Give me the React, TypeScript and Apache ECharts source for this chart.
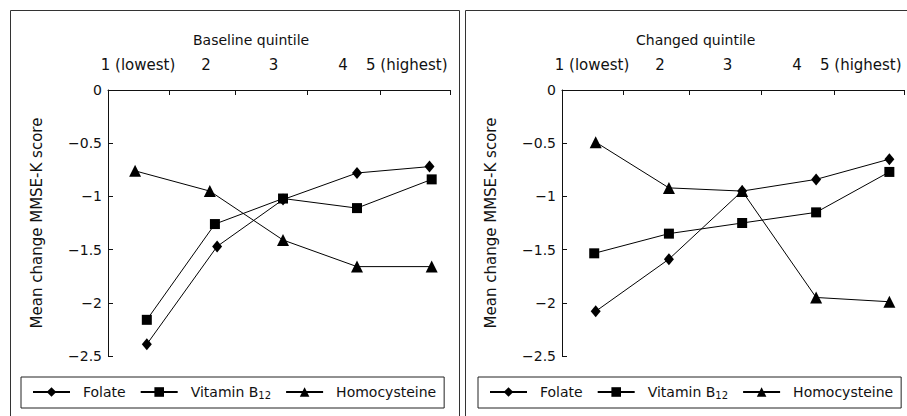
import React, { useEffect, useRef } from "react";
import * as echarts from "echarts";

// Tick labels and positions on the top (quintile) axis
const quintileLabels = ["1 (lowest)", "2", "3", "4", "5 (highest)"];
const labelPositions = [0.41, 1.34, 2.26, 3.21, 4.08];
const tickPositions = [0.83, 1.74, 2.72, 3.72, 4.67];
const xMax = 4.67;
const yTicks = [0, -0.5, -1, -1.5, -2, -2.5];

const panelTitles = ["Baseline quintile", "Changed quintile"];
const seriesNames = ["Folate", "Vitamin B12", "Homocysteine"];

// Baseline quintile panel (x = quintile position, y = mean change)
const baseFolateX = [0.53, 1.49, 2.39, 3.4, 4.39];
const baseFolate = [-2.39, -1.47, -1.03, -0.78, -0.72];
const baseB12X = [0.53, 1.46, 2.39, 3.4, 4.42];
const baseB12 = [-2.16, -1.26, -1.02, -1.11, -0.84];
const baseHcyX = [0.37, 1.39, 2.39, 3.4, 4.42];
const baseHcy = [-0.76, -0.95, -1.41, -1.66, -1.66];

// Changed quintile panel
const chgFolateX = [0.46, 1.46, 2.46, 3.47, 4.47];
const chgFolate = [-2.08, -1.59, -0.95, -0.84, -0.65];
const chgB12X = [0.44, 1.46, 2.46, 3.47, 4.47];
const chgB12 = [-1.535, -1.35, -1.25, -1.15, -0.77];
const chgHcyX = [0.46, 1.46, 2.46, 3.47, 4.47];
const chgHcy = [-0.49, -0.92, -0.95, -1.95, -1.99];

const FONT = "DejaVu Sans";
const INK = "#111";

const zip = (xs: number[], ys: number[]) => xs.map((x, i) => [x, ys[i]]);

const symbols = ["diamond", "rect", "triangle"];
const symbolSizes: any[] = [[10, 12], 10, 12];

export default function App() {
  const ref = useRef<HTMLDivElement>(null);
  useEffect(() => {
    if (!ref.current) return;
    const chart = echarts.init(ref.current, undefined, { renderer: "svg" });

    const grids = [
      { left: 108, top: 90, width: 342, height: 266 },
      { left: 562, top: 90, width: 342, height: 266 },
    ];

    const xAxes = grids.map((_, i) => ({
      type: "value",
      gridIndex: i,
      position: "top",
      min: 0,
      max: xMax,
      splitLine: { show: false },
      axisLine: { show: true, lineStyle: { color: INK, width: 1 } },
      axisTick: {
        show: true,
        inside: true,
        length: 5,
        customValues: tickPositions,
        lineStyle: { color: INK },
      },
      axisLabel: {
        show: true,
        customValues: labelPositions,
        margin: 18,
        fontFamily: FONT,
        fontSize: 15,
        color: INK,
        formatter: (v: number) => {
          let best = 0;
          labelPositions.forEach((p, k) => {
            if (Math.abs(p - v) < Math.abs(labelPositions[best] - v)) best = k;
          });
          return quintileLabels[best];
        },
      },
    }));

    const yAxes = grids.map((_, i) => ({
      type: "value",
      gridIndex: i,
      min: yTicks[yTicks.length - 1],
      max: yTicks[0],
      interval: 0.5,
      name: "Mean change MMSE-K score",
      nameLocation: "middle",
      nameGap: 64,
      nameTextStyle: { fontFamily: FONT, fontSize: 15, color: INK },
      splitLine: { show: false },
      axisLine: { show: true, lineStyle: { color: INK, width: 1 } },
      axisTick: { show: true, inside: true, length: 5, lineStyle: { color: INK } },
      axisLabel: {
        fontFamily: FONT,
        fontSize: 14,
        color: INK,
        margin: 6,
        formatter: (v: number) => String(v).replace("-", "\u2212"),
      },
    }));

    const panelData = [
      [zip(baseFolateX, baseFolate), zip(baseB12X, baseB12), zip(baseHcyX, baseHcy)],
      [zip(chgFolateX, chgFolate), zip(chgB12X, chgB12), zip(chgHcyX, chgHcy)],
    ];

    const series: any[] = [];
    panelData.forEach((panel, pi) => {
      panel.forEach((data, si) => {
        series.push({
          type: "line",
          name: seriesNames[si],
          xAxisIndex: pi,
          yAxisIndex: pi,
          data,
          symbol: symbols[si],
          symbolSize: symbolSizes[si],
          showAllSymbol: true,
          lineStyle: { color: "#000", width: 1 },
          itemStyle: { color: "#000" },
          emphasis: { disabled: true },
        });
      });
    });

    const legendBase = (left: number) => ({
      left,
      top: 377,
      width: 440,
      orient: "horizontal",
      data: seriesNames,
      borderColor: "#222",
      borderWidth: 1,
      padding: [8, 8, 8, 11],
      itemWidth: 37,
      itemHeight: 12,
      itemGap: 14,
      selectedMode: false,
      textStyle: {
        fontFamily: FONT,
        fontSize: 14,
        color: INK,
        padding: [0, 0, 0, 8],
        rich: {
          sub: { fontFamily: FONT, fontSize: 10, color: INK, verticalAlign: "bottom", padding: [6, 0, 0, 0] },
        },
      },
      formatter: (n: string) => (n === "Vitamin B12" ? "Vitamin B{sub|12}" : n),
    });

    chart.setOption({
      animation: false,
      backgroundColor: "#fff",
      textStyle: { fontFamily: FONT },
      title: [
        { text: panelTitles[0], left: 193, top: 33, padding: 0, textStyle: { fontFamily: FONT, fontSize: 14, fontWeight: "normal", color: INK } },
        { text: panelTitles[1], left: 636, top: 33, padding: 0, textStyle: { fontFamily: FONT, fontSize: 14, fontWeight: "normal", color: INK } },
      ],
      grid: grids,
      xAxis: xAxes,
      yAxis: yAxes,
      legend: [legendBase(21), legendBase(478)],
      series,
      graphic: [
        { type: "rect", shape: { x: 10.5, y: 10.5, width: 449, height: 420 }, style: { fill: "none", stroke: "#333", lineWidth: 1 }, silent: true },
        { type: "rect", shape: { x: 465.5, y: 10.5, width: 460, height: 420 }, style: { fill: "none", stroke: "#333", lineWidth: 1 }, silent: true },
      ],
    });

    return () => chart.dispose();
  }, []);

  return (
    <div
      ref={ref}
      style={{ position: "fixed", left: 0, top: 0, width: 907, height: 416 }}
    />
  );
}
